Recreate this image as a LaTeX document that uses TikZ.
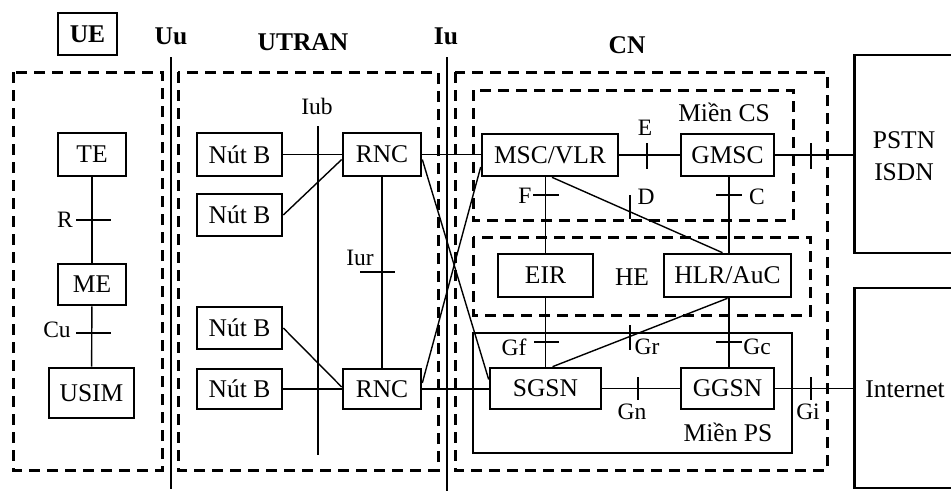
\documentclass[tikz,border=0pt]{standalone}
\usepackage{fontspec}
\setmainfont{Liberation Serif}
\begin{document}
\begin{tikzpicture}[x=1pt,y=-1pt,
  nbox/.style={draw,line width=2.6pt,inner sep=0pt,font=\fontsize{25.5}{30}\selectfont},
  ttlbox/.style={draw,line width=2.8pt,inner sep=0pt,font=\fontsize{25.5}{30}\selectfont\bfseries},
  bigbox/.style={draw,line width=2.8pt,inner sep=0pt,anchor=west},
  lbl/.style={inner sep=0pt,font=\fontsize{23.5}{28}\selectfont},
  txt/.style={inner sep=0pt,align=center,font=\fontsize{25.5}{32}\selectfont},
  ttl/.style={inner sep=0pt,font=\fontsize{25.5}{30}\selectfont\bfseries},
  frame/.style={line width=3pt,dash pattern=on 11pt off 7pt},
  solidframe/.style={line width=2.6pt},
  conn/.style={line width=1.4pt},
  tick/.style={line width=1.4pt}]
\clip (0,0) rectangle (951,491);
\fill[white] (0,0) rectangle (951,491);

% titles
\node[ttlbox,minimum width=59,minimum height=42] (UEt) at (87.5,34) {UE};
\node[ttl] (Uut) at (171,36) {Uu};
\node[ttl] (UTRANt) at (303,42) {UTRAN};
\node[ttl] (Iut) at (446,36) {Iu};
\node[ttl] (CNt) at (627,45) {CN};

% interface lines
\coordinate (uuT) at (171,57); \coordinate (uuB) at (171,489);
\coordinate (iuT) at (447,57); \coordinate (iuB) at (447,491);
\draw[conn] (uuT) -- (uuB);
\draw[conn] (iuT) -- (iuB);

% frames
\draw[frame] (13,72) rectangle (162,470);
\draw[frame] (178,72) rectangle (438,470);
\draw[frame] (455,72) rectangle (827,470);
\draw[frame] (473,90) rectangle (793,220);
\draw[frame] (473,237) rectangle (810,315);
\draw[solidframe] (473,333) rectangle (792,453);

% external boxes
\node[bigbox,minimum width=160,minimum height=198] (PSTN) at (853,154) {};
\node[bigbox,minimum width=160,minimum height=200] (INET) at (853,388) {};
\node[txt] (PSTNt) at (904,156) {PSTN\\ISDN};
\node[txt] (INETt) at (905,389) {Internet};

% UE nodes
\node[nbox,minimum width=68,minimum height=43] (TE) at (92,154.5) {TE};
\node[nbox,minimum width=68,minimum height=41] (ME) at (92,284.5) {ME};
\node[nbox,minimum width=85,minimum height=50] (USIM) at (91.5,393) {USIM};

% UTRAN nodes
\node[nbox,minimum width=85,minimum height=43] (NB1) at (239.5,154.5) {Nút B};
\node[nbox,minimum width=85,minimum height=42] (NB2) at (239.5,215) {Nút B};
\node[nbox,minimum width=85,minimum height=42] (NB3) at (239.5,328) {Nút B};
\node[nbox,minimum width=85,minimum height=40] (NB4) at (239.5,389) {Nút B};
\node[nbox,minimum width=78,minimum height=43] (RNC1) at (382,154.5) {RNC};
\node[nbox,minimum width=78,minimum height=40] (RNC2) at (382,389) {RNC};

% CN nodes
\node[nbox,minimum width=136,minimum height=42] (MSC) at (550,155) {MSC/VLR};
\node[nbox,minimum width=93,minimum height=42] (GMSC) at (727.5,155) {GMSC};
\node[nbox,minimum width=95,minimum height=43] (EIR) at (545.5,275.5) {EIR};
\node[nbox,minimum width=127,minimum height=43] (HLR) at (727.5,275.5) {HLR/AuC};
\node[nbox,minimum width=111,minimum height=41] (SGSN) at (545.5,388.5) {SGSN};
\node[nbox,minimum width=93,minimum height=41] (GGSN) at (727.5,388.5) {GGSN};

% region labels
\node[txt] (CSl) at (724,112) {Miền CS};
\node[txt] (HEl) at (632,277) {HE};
\node[txt] (PSl) at (728,432) {Miền PS};

% UE connectors
\draw[conn] (TE) -- (ME);
\draw[conn] (ME) -- (USIM);
\draw[tick] (76,220) -- (111,220);
\node[lbl] (Rl) at (65,220) {R};
\draw[tick] (76,333) -- (111,333);
\node[lbl] (Cul) at (57,330) {Cu};

% UTRAN connectors
\coordinate (iubT) at (318,126); \coordinate (iubB) at (318,455);
\draw[conn] (iubT) -- (iubB);
\node[lbl] (Iubl) at (317,106) {Iub};
\draw[conn] (NB1) -- (NB1 -| RNC1.west);
\draw[conn] (NB2.east) -- ([yshift=-5pt]RNC1.west);
\draw[conn] (NB3.east) -- ([yshift=2pt]RNC2.west);
\draw[conn] (NB4) -- (RNC2);
\draw[conn] (RNC1) -- (RNC2);
\draw[tick] (360,272) -- (395,272);
\node[lbl] (Iurl) at (360,258) {Iur};

% UTRAN - CN
\draw[conn] (RNC1.east) -- (RNC1.east -| MSC.west);
\draw[conn] ([yshift=-5pt]RNC1.east) -- ([yshift=9pt]SGSN.west);
\draw[conn] ([yshift=6pt]RNC2.east) -- ([yshift=-12pt]MSC.west);
\draw[conn] (RNC2.east) -- (RNC2.east -| SGSN.west);

% CN connectors
\draw[conn] (MSC) -- (GMSC);
\draw[tick] (647,143) -- (647,169);
\node[lbl] (El) at (645,128) {E};
\draw[conn] (GMSC.east) -- (GMSC.east -| PSTN.west);
\draw[tick] (811,143) -- (811,169);
\draw[conn] (MSC.south -| EIR.north) -- (EIR.north);
\draw[tick] (533,195) -- (559,195);
\node[lbl] (Fl) at (525,196) {F};
\draw[conn] ([xshift=2pt]MSC.south) -- ([xshift=-5pt]HLR.north);
\draw[tick] (630,195) -- (630,219);
\node[lbl] (Dl) at (646,197) {D};
\draw[conn] ([xshift=1.5pt]GMSC.south) -- ([xshift=1.5pt]HLR.north);
\draw[tick] (716,195) -- (742,195);
\node[lbl] (Cl) at (757,197) {C};
\draw[conn] (EIR) -- (SGSN);
\draw[tick] (534,342) -- (559,342);
\node[lbl] (Gfl) at (514,347) {Gf};
\draw[conn] (HLR.south) -- ([xshift=7pt]SGSN.north);
\draw[tick] (630,325) -- (630,350);
\node[lbl] (Grl) at (647,347) {Gr};
\draw[conn] ([xshift=1.5pt]HLR.south) -- ([xshift=1.5pt]GGSN.north);
\draw[tick] (716,342) -- (742,342);
\node[lbl] (Gcl) at (757,347) {Gc};
\draw[conn] (SGSN) -- (GGSN);
\draw[tick] (638,377) -- (638,400);
\node[lbl] (Gnl) at (632,412) {Gn};
\draw[conn] (GGSN.east) -- (GGSN.east -| INET.west);
\draw[tick] (811,377) -- (811,400);
\node[lbl] (Gil) at (808,412) {Gi};
\end{tikzpicture}
\end{document}
